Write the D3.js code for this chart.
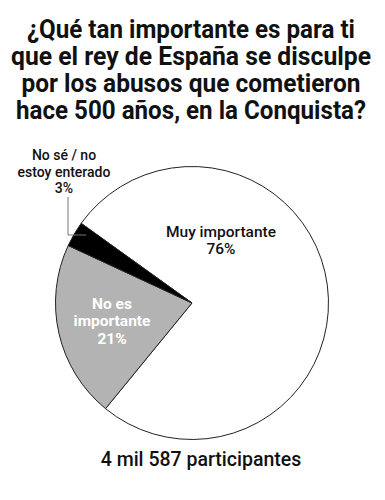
<!DOCTYPE html>
<html>
<head>
<meta charset="utf-8">
<script src="https://cdn.jsdelivr.net/npm/d3@7"></script>
<style>
  body { margin: 0; background: #fff; }
  svg { display: block; font-family: Roboto, "Noto Sans", sans-serif; }
</style>
</head>
<body>
<svg id="chart" width="385" height="500"></svg>
<script>
// survey data
var categories = ["Muy importante", "No es importante", "No sé / no estoy enterado"];
var percents = [76, 21, 3];
var titleLines = [
	"¿Qué tan importante es para ti",
	"que el rey de España se disculpe",
	"por los abusos que cometieron",
	"hace 500 años, en la Conquista?"
];
var footer = "4 mil 587 participantes";

var svg = d3.select("#chart");
var cx = 192, cy = 303, radius = 136.5;

/* title, each line stretched to the width seen in the picture */
var titleWidths = [328, 360, 339, 350];
svg.append("g").selectAll("text")
	.data(titleLines)
	.enter().append("text")
	.attr("x", 191)
	.attr("y", function(d, i) { return 38 + i * 27; })
	.attr("text-anchor", "middle")
	.attr("font-size", 25)
	.attr("font-weight", 700)
	.attr("fill", "#111")
	.attr("textLength", function(d, i) { return titleWidths[i]; })
	.attr("lengthAdjust", "spacingAndGlyphs")
	.text(function(d) { return d; });

/* pie */
var data = categories.map(function(c, i) { return { key: c, value: percents[i] }; });
var start = -54.3 * Math.PI / 180;
var pie = d3.pie().sort(null).value(function(d) { return d.value; })
	.startAngle(start).endAngle(start + 2 * Math.PI);
var arc = d3.arc().innerRadius(0).outerRadius(radius);
var color = d3.scaleOrdinal().domain(categories).range(["#ffffff", "#b3b3b3", "#000000"]);

var g = svg.append("g").attr("transform", "translate(" + cx + "," + cy + ")");
var arcs = pie(data);
g.selectAll("path")
	.data(arcs)
	.enter().append("path")
	.attr("d", arc)
	.attr("fill", function(d) { return color(d.data.key); })
	.attr("stroke", "#222")
	.attr("stroke-width", 1);

/* labels inside the slices */
function labelLines(d) {
	if (d.data.key === "Muy importante") return ["Muy importante", d.data.value + "%"];
	return ["No es", "importante", d.data.value + "%"];
}
var inside = [
	{ d: arcs[0], x: 221, y: 237, fill: "#111", weight: 500 },
	{ d: arcs[1], x: 112, y: 309, fill: "#fff", weight: 700 }
];
inside.forEach(function(l) {
	var t = svg.append("text")
		.attr("text-anchor", "middle")
		.attr("font-size", 15.5)
		.attr("font-weight", l.weight)
		.attr("fill", l.fill);
	labelLines(l.d).forEach(function(line, i) {
		t.append("tspan").attr("x", l.x).attr("y", l.y + i * 17.3).text(line);
	});
});

/* outside label for the small slice, with its leader */
var small = arcs[2];
var smallText = svg.append("text")
	.attr("text-anchor", "middle")
	.attr("font-size", 14)
	.attr("font-weight", 500)
	.attr("fill", "#111");
["No sé / no", "estoy enterado", small.data.value + "%"].forEach(function(line, i) {
	smallText.append("tspan").attr("x", 64).attr("y", 160 + i * 16.5).text(line);
});
var edge = d3.arc().innerRadius(radius - 14).outerRadius(radius - 14).centroid(small);
svg.append("path")
	.attr("d", "M68,197 V235 H" + (cx + edge[0]))
	.attr("fill", "none")
	.attr("stroke", "#777")
	.attr("stroke-width", 1);

/* footer */
svg.append("text")
	.attr("x", 201)
	.attr("y", 466)
	.attr("text-anchor", "middle")
	.attr("font-size", 19.5)
	.attr("font-weight", 500)
	.attr("fill", "#111")
	.text(footer);
</script>
</body>
</html>
